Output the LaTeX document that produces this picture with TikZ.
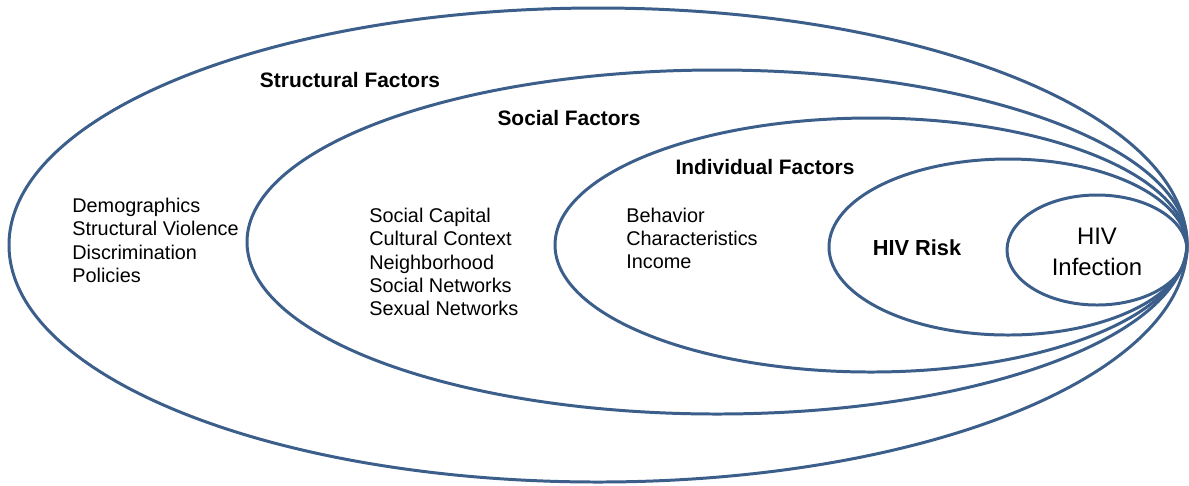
\documentclass[tikz,border=0pt]{standalone}
\usepackage{fontspec}
\setmainfont{Liberation Sans}
\usepackage{tikz}
\usetikzlibrary{positioning}
\definecolor{ringblue}{RGB}{59,94,139}

\begin{document}
\begin{tikzpicture}[x=0.02cm, y=0.02cm]
                \tikzstyle{every node}+=[inner sep=0pt]
                \tikzstyle{ring}=[ringblue, line width=1.7pt]
                \tikzstyle{title}=[font=\fontsize{11.9}{14}\selectfont\bfseries]
                \tikzstyle{items}=[font=\fontsize{11.3}{13.3}\selectfont, align=left, anchor=west]
                \useasboundingbox (0,0) rectangle (1189,-485);
                % rings, all meeting on the right
                \draw [ring] (598,-245) ellipse (589 and 237);
                \draw [ring] (717,-242) ellipse (470 and 172);
                \draw [ring] (871,-245) ellipse (316 and 127);
                \draw [ring] (1008,-247) ellipse (179 and 88);
                \draw [ring] (1097,-250) ellipse (90 and 55);
                % headings
                \node [title] (structural) at (350,-80) {Structural Factors};
                \node [title] (social) at (569,-118) {Social Factors};
                \node [title] (individual) at (765,-167) {Individual Factors};
                % lists
                \node [items] (structlist) at (72,-240.5) {Demographics\\Structural Violence\\Discrimination\\Policies};
                \node [items] (sociallist) at (369,-262) {Social Capital\\Cultural Context\\Neighborhood\\Social Networks\\Sexual Networks};
                \node [items] (indivlist) at (626,-238.5) {Behavior\\Characteristics\\Income};
                % inner rings
                \node [font=\fontsize{12.4}{15}\selectfont\bfseries] (risk) at (917,-248) {HIV Risk};
                \node [font=\fontsize{13.6}{18}\selectfont, align=center] (infection) at (1097,-252) {HIV\\Infection};
            \end{tikzpicture}
\end{document}
